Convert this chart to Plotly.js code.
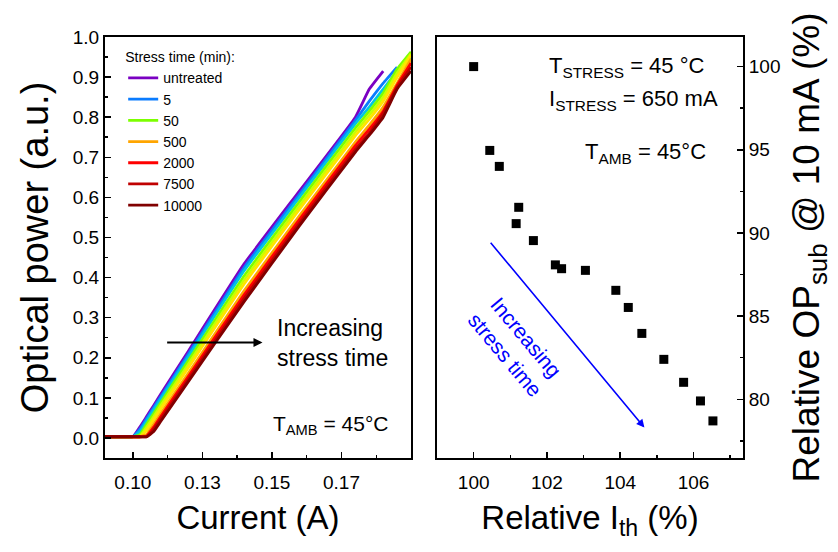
<!DOCTYPE html>
<html>
<head>
<meta charset="utf-8">
<script src="https://cdn.plot.ly/plotly-3.0.1.min.js"></script>
<style>html,body{margin:0;padding:0;background:#fff;}#chart{width:838px;height:552px;}</style>
</head>
<body>
<div id="chart"></div>
<script>
// ---- Left panel: optical power vs current ----
const current = [0.090, 0.100, 0.1025, 0.105, 0.1075, 0.110, 0.120, 0.140, 0.160, 0.180, 0.185, 0.190, 0.195, 0.200];
const pUntreated = [0.003, 0.003, 0.027, 0.054, 0.081, 0.109, 0.217, 0.434, 0.617, 0.800, 0.870, 0.915, null, null];
const p5     = [0.003, 0.003, 0.022, 0.049, 0.076, 0.103, 0.210, 0.425, 0.609, 0.792, 0.840, 0.885, 0.925, null];
const p10    = [0.003, 0.003, 0.016, 0.043, 0.070, 0.097, 0.203, 0.417, 0.601, 0.784, 0.825, 0.870, 0.915, 0.950];
const p50    = [0.003, 0.003, 0.008, 0.035, 0.061, 0.088, 0.193, 0.404, 0.590, 0.773, 0.815, 0.860, 0.920, 0.963];
const p100   = [0.003, 0.003, 0.003, 0.027, 0.053, 0.080, 0.184, 0.394, 0.580, 0.763, 0.805, 0.850, 0.910, 0.958];
const p200   = [0.003, 0.003, 0.003, 0.020, 0.046, 0.072, 0.176, 0.384, 0.571, 0.754, 0.795, 0.840, 0.900, 0.955];
const p500   = [0.003, 0.003, 0.003, 0.009, 0.034, 0.060, 0.162, 0.367, 0.555, 0.738, 0.780, 0.825, 0.885, 0.945];
const p2000  = [0.003, 0.003, 0.003, 0.005, 0.027, 0.053, 0.154, 0.357, 0.546, 0.729, 0.770, 0.815, 0.880, 0.935];
const p7500  = [0.003, 0.003, 0.003, 0.003, 0.022, 0.047, 0.147, 0.348, 0.537, 0.720, 0.760, 0.810, 0.875, 0.925];
const p10000 = [0.003, 0.003, 0.003, 0.003, 0.016, 0.041, 0.141, 0.340, 0.530, 0.713, 0.755, 0.800, 0.870, 0.915];

const curveNames  = ['untreated', '5', '10', '50', '100', '200', '500', '2000', '7500', '10000'];
const curveInLegend = [true, true, false, true, false, false, true, true, true, true];
const curveColors = ['#7a00c2', '#0a7cff', '#00c8e0', '#7cff00', '#c8ff00', '#ffe400', '#ffa500', '#ff0000', '#c00000', '#800000'];
const curvePowers = [pUntreated, p5, p10, p50, p100, p200, p500, p2000, p7500, p10000];

// ---- Right panel: relative OP_sub vs relative Ith ----
const relIth = [100.0, 100.44, 100.70, 101.16, 101.23, 101.63, 102.23, 102.40, 103.05, 103.88, 104.22, 104.59, 105.19, 105.73, 106.19, 106.53];
const relOP  = [100.0, 94.96, 94.0, 90.56, 91.54, 89.54, 88.08, 87.85, 87.75, 86.55, 85.52, 83.96, 82.4, 81.02, 79.9, 78.7];

const leftXTickVals = [0.100, 0.125, 0.150, 0.175];
const leftXTickText = ['0.10', '0.13', '0.15', '0.17'];

const FONT = '"Liberation Sans", Arial, sans-serif';

const traces = [];
for (let i = 0; i < curveNames.length; i++) {
  traces.push({
    x: current, y: curvePowers[i], type: 'scatter', mode: 'lines',
    name: curveNames[i], showlegend: curveInLegend[i],
    line: {color: curveColors[i], width: 2.8, shape: 'spline', smoothing: 0.35},
    xaxis: 'x', yaxis: 'y', connectgaps: false
  });
}
traces.push({
  x: relIth, y: relOP, type: 'scatter', mode: 'markers', showlegend: false,
  marker: {symbol: 'square', size: 9, color: '#000'},
  xaxis: 'x2', yaxis: 'y2'
});

const axCommon = {
  showline: true, linecolor: '#000', linewidth: 2, mirror: true,
  ticks: 'inside', ticklen: 6, tickwidth: 1.5, tickcolor: '#000',
  showgrid: false, zeroline: false,
  tickfont: {family: FONT, size: 19, color: '#000'}
};

const layout = {
  width: 838, height: 552,
  margin: {l: 0, r: 0, t: 0, b: 0},
  paper_bgcolor: '#fff', plot_bgcolor: '#fff',
  font: {family: FONT, color: '#000'},
  showlegend: true,
  legend: {
    x: 0.147, y: 0.92, xanchor: 'left', yanchor: 'top',
    bgcolor: 'rgba(0,0,0,0)', borderwidth: 0,
    font: {family: FONT, size: 14, color: '#000'},
    title: {text: 'Stress time (min):', font: {family: FONT, size: 14, color: '#000'}},
    tracegroupgap: 0, itemwidth: 30
  },
  xaxis: Object.assign({}, axCommon, {
    domain: [0.1253, 0.4905], range: [0.09, 0.2], anchor: 'y',
    tickmode: 'array', tickvals: leftXTickVals, ticktext: leftXTickText,
    ticklabelstandoff: 6,
    minor: {tickmode: 'linear', tick0: 0.1, dtick: 0.0125, ticks: 'inside', ticklen: 3, tickwidth: 1.5, tickcolor: '#000'},
    title: {text: 'Current (A)', font: {family: FONT, size: 33, color: '#000'}, standoff: 14}
  }),
  yaxis: Object.assign({}, axCommon, {
    domain: [0.1703, 0.933], range: [-0.05, 1.0], anchor: 'x',
    tickmode: 'linear', tick0: 0, dtick: 0.1, tickformat: '.1f',
    minor: {tickmode: 'linear', tick0: 0, dtick: 0.05, ticks: 'inside', ticklen: 3, tickwidth: 1.5, tickcolor: '#000'},
    title: {text: 'Optical power (a.u.)', font: {family: FONT, size: 38, color: '#000'}, standoff: 12}
  }),
  xaxis2: Object.assign({}, axCommon, {
    domain: [0.5215, 0.8866], range: [99, 107.35], anchor: 'y2',
    tickmode: 'linear', tick0: 100, dtick: 2,
    ticklabelstandoff: 6,
    minor: {tickmode: 'linear', tick0: 100, dtick: 1, ticks: 'inside', ticklen: 3, tickwidth: 1.5, tickcolor: '#000'},
    title: {text: 'Relative I<sub>th</sub> (%)', font: {family: FONT, size: 33, color: '#000'}, standoff: 14}
  }),
  yaxis2: Object.assign({}, axCommon, {
    domain: [0.1703, 0.933], range: [76.47, 101.78], anchor: 'x2', side: 'right',
    tickmode: 'linear', tick0: 80, dtick: 5,
    minor: {tickmode: 'linear', tick0: 80, dtick: 2.5, ticks: 'inside', ticklen: 3, tickwidth: 1.5, tickcolor: '#000'},
    title: {text: 'Relative OP<sub>sub</sub> @ 10 mA (%)', font: {family: FONT, size: 37, color: '#000'}, standoff: 14}
  }),
  annotations: [
    {xref: 'x', yref: 'y', x: 0.1466, y: 0.238, ax: 0.1118, ay: 0.238, axref: 'x', ayref: 'y',
     text: '', showarrow: true, arrowhead: 2, arrowsize: 1, arrowwidth: 1.8, arrowcolor: '#000'},
    {xref: 'x', yref: 'y', x: 0.1512, y: 0.238, xanchor: 'left', yanchor: 'middle', align: 'left',
     text: 'Increasing<br>stress time', showarrow: false, font: {family: FONT, size: 23, color: '#000'}},
    {xref: 'x', yref: 'y', x: 0.1495, y: 0.032, xanchor: 'left', yanchor: 'middle',
     text: 'T<sub>AMB</sub> = 45°C', showarrow: false, font: {family: FONT, size: 21, color: '#000'}},
    {xref: 'x2', yref: 'y2', x: 102.0, y: 100.0, xanchor: 'left', yanchor: 'middle',
     text: 'T<sub>STRESS</sub> = 45 °C', showarrow: false, font: {family: FONT, size: 22, color: '#000'}},
    {xref: 'x2', yref: 'y2', x: 102.0, y: 98.0, xanchor: 'left', yanchor: 'middle',
     text: 'I<sub>STRESS</sub> = 650 mA', showarrow: false, font: {family: FONT, size: 22, color: '#000'}},
    {xref: 'x2', yref: 'y2', x: 102.98, y: 94.8, xanchor: 'left', yanchor: 'middle',
     text: 'T<sub>AMB</sub> = 45°C', showarrow: false, font: {family: FONT, size: 22, color: '#000'}},
    {xref: 'x2', yref: 'y2', x: 104.66, y: 78.3, ax: 100.43, ay: 89.5, axref: 'x2', ayref: 'y2',
     text: '', showarrow: true, arrowhead: 2, arrowsize: 1, arrowwidth: 1.6, arrowcolor: '#0000ff'},
    {xref: 'x2', yref: 'y2', x: 101.15, y: 83.2, xanchor: 'center', yanchor: 'middle',
     text: 'Increasing<br>stress time', textangle: 50, showarrow: false, font: {family: FONT, size: 21, color: '#0000ff'}}
  ]
};

Plotly.newPlot('chart', traces, layout, {staticPlot: true, displayModeBar: false});
</script>
</body>
</html>
